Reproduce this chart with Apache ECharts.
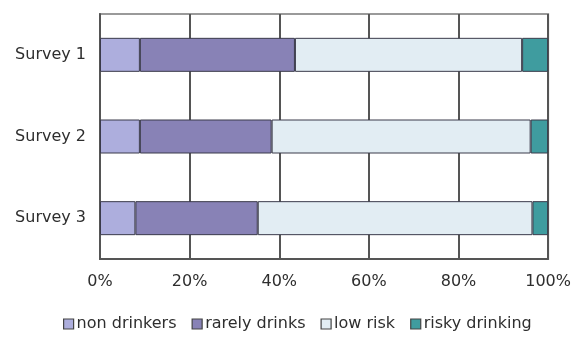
<!DOCTYPE html>
<html>
<head>
<meta charset="utf-8">
<script src="https://cdn.jsdelivr.net/npm/echarts@6/dist/echarts.min.js"></script>
<style>
  html, body { margin: 0; padding: 0; background: #fff; }
  #chart { width: 574px; height: 338px; }
</style>
</head>
<body>
<div id="chart"></div>
<script>
// Survey categories (top to bottom) and share of respondents per group, in percent
const surveys = ['Survey 1', 'Survey 2', 'Survey 3'];
const nonDrinkers = [8.9, 8.9, 7.9];
const rarelyDrinks = [34.6, 29.4, 27.3];
const lowRisk = [50.7, 57.8, 61.3];
const riskyDrinking = [5.8, 3.9, 3.5];
const xTicks = [0, 20, 40, 60, 80, 100];

const groups = [
  { name: 'non drinkers', data: nonDrinkers, color: '#adaedd' },
  { name: 'rarely drinks', data: rarelyDrinks, color: '#8882b6' },
  { name: 'low risk', data: lowRisk, color: '#e2edf3' },
  { name: 'risky drinking', data: riskyDrinking, color: '#3f9c9f' }
];

const FONT = '"DejaVu Sans", Verdana, sans-serif';
const TEXT = '#2e2e2e';

const chart = echarts.init(document.getElementById('chart'), null, { renderer: 'canvas' });
chart.setOption({
  animation: false,
  textStyle: { fontFamily: FONT },
  grid: {
    left: 100, top: 14, width: 450, height: 245,
    show: true, borderColor: '#9a9a9a', borderWidth: 2, backgroundColor: '#fff'
  },
  legend: {
    top: 316,
    left: 63,
    padding: 0,
    icon: 'rect',
    itemWidth: 10,
    itemHeight: 10,
    itemGap: 15,
    textStyle: { fontFamily: FONT, fontSize: 16, color: TEXT, padding: [0, 0, 0, -2] },
    itemStyle: { borderColor: '#444', borderWidth: 1.2 },
    data: groups.map(g => g.name)
  },
  xAxis: {
    type: 'value',
    min: xTicks[0],
    max: xTicks[xTicks.length - 1],
    interval: xTicks[1] - xTicks[0],
    axisLine: { show: true, lineStyle: { color: '#555', width: 2 } },
    axisTick: { show: false },
    axisLabel: { formatter: '{value}%', fontFamily: FONT, fontSize: 16, color: TEXT, margin: 15 },
    splitLine: { show: true, lineStyle: { color: '#555', width: 2 } }
  },
  yAxis: {
    type: 'category',
    inverse: true,
    data: surveys,
    axisLine: { show: true, lineStyle: { color: '#555', width: 2 } },
    axisTick: { show: false },
    axisLabel: { fontFamily: FONT, fontSize: 16, color: TEXT, margin: 14 }
  },
  series: groups.map(g => ({
    name: g.name,
    type: 'bar',
    stack: 'total',
    barWidth: 34,
    data: g.data,
    itemStyle: { color: g.color, borderColor: '#3a3a4a', borderWidth: 1 }
  }))
});
</script>
</body>
</html>
